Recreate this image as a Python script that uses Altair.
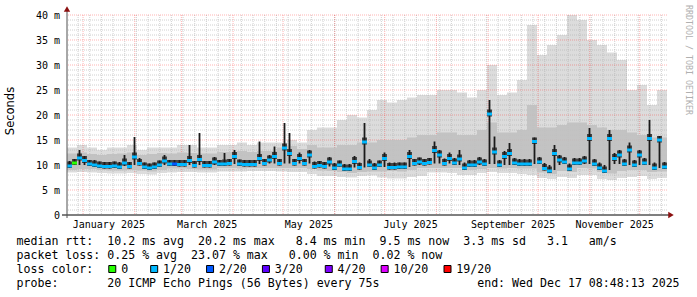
import altair as alt
import pandas as pd
from datetime import datetime, timedelta

START = datetime(2024, 12, 22, 8, 48, 13)
SPAN = 360.0
W, H = 600, 200
LEFT, TOP = 67, 15
MONO = "DejaVu Sans Mono"

# ---- median RTT (ms), 120 bins of 3 days ----
median_rtt = [9.8, 10.4, 11.4, 10.9, 10.2, 10.0, 9.8, 9.7, 9.7, 9.8,
              9.6, 10.4, 9.7, 11.6, 10.3, 9.6, 9.4, 9.6, 10.0, 10.8,
              10.2, 10.2, 10.1, 10.1, 10.9, 9.9, 11.1, 9.9, 9.9, 10.6,
              10.2, 10.2, 10.3, 11.7, 10.2, 10.1, 10.1, 10.1, 11.3, 10.3,
              11.0, 11.7, 10.3, 13.4, 12.3, 10.3, 11.3, 10.3, 12.0, 9.7,
              9.9, 9.7, 10.6, 9.4, 10.0, 9.2, 9.2, 10.7, 9.5, 14.6,
              10.0, 9.4, 10.0, 11.3, 9.5, 9.5, 9.6, 9.6, 11.7, 10.3,
              10.6, 10.3, 10.5, 12.9, 12.0, 10.3, 11.3, 10.4, 11.2, 9.4,
              10.0, 10.0, 10.6, 10.2, 20.2, 12.6, 10.0, 11.7, 12.3, 10.4,
              10.2, 10.2, 10.2, 14.7, 10.6, 9.3, 8.8, 12.3, 11.0, 10.6,
              9.2, 10.4, 10.4, 10.8, 15.3, 10.2, 9.4, 8.8, 15.3, 11.3,
              12.0, 10.2, 13.0, 10.0, 12.0, 10.4, 15.3, 9.4, 15.0, 9.6]

# dense (dark) smoke around the median, 120 bins
dark_high = [10.8, 11.2, 13.0, 11.8, 11.0, 11.0, 10.7, 10.6, 10.6, 10.7,
             10.6, 12.0, 10.6, 15.6, 11.4, 10.5, 10.3, 10.5, 10.9, 12.0,
             11.0, 11.0, 11.0, 11.0, 14.0, 10.8, 16.4, 10.8, 10.8, 11.6,
             11.0, 12.4, 11.2, 13.0, 11.1, 11.0, 11.0, 11.0, 14.7, 11.2,
             12.0, 13.7, 11.2, 18.4, 16.4, 11.2, 12.5, 11.2, 13.0, 10.7,
             10.8, 10.6, 11.6, 10.4, 10.9, 10.2, 10.2, 11.8, 10.5, 18.4,
             11.2, 10.4, 10.9, 12.5, 10.5, 10.5, 10.5, 10.5, 13.0, 11.2,
             11.5, 11.2, 11.4, 14.7, 13.0, 11.3, 12.5, 11.4, 13.0, 10.5,
             11.0, 11.0, 11.6, 11.2, 23.0, 15.7, 11.0, 12.8, 14.4, 11.4,
             11.2, 11.2, 11.2, 15.5, 11.6, 10.4, 10.0, 14.0, 12.0, 11.6,
             10.3, 11.4, 11.4, 11.8, 17.4, 11.2, 10.5, 10.0, 17.0, 12.4,
             13.0, 11.2, 14.5, 11.0, 13.0, 11.4, 19.0, 10.5, 15.8, 10.6]
dark_low = [9.4, 10.0, 10.0, 10.0, 9.8, 9.6, 9.4, 9.3, 9.3, 9.4,
            9.2, 9.8, 9.3, 10.0, 9.9, 9.2, 9.0, 9.2, 9.6, 10.0,
            9.8, 9.8, 9.7, 9.7, 10.0, 9.5, 10.0, 9.5, 9.5, 10.0,
            9.8, 9.8, 9.9, 10.2, 9.8, 9.7, 9.7, 9.7, 10.2, 9.9,
            10.3, 10.3, 9.9, 10.3, 10.3, 9.9, 10.3, 9.9, 10.3, 9.3,
            9.5, 9.3, 9.7, 9.0, 9.6, 8.8, 8.8, 9.5, 9.1, 9.5,
            9.6, 9.0, 9.6, 9.6, 9.1, 9.1, 9.2, 9.2, 9.6, 9.9,
            10.0, 9.9, 10.1, 10.3, 10.3, 9.9, 10.3, 10.0, 10.0, 9.0,
            9.6, 9.6, 10.0, 9.8, 10.2, 10.2, 9.6, 10.0, 10.0, 10.0,
            9.8, 9.8, 9.8, 10.2, 10.2, 8.9, 8.4, 9.0, 10.0, 10.2,
            8.8, 10.0, 10.0, 10.2, 10.2, 9.8, 9.0, 8.4, 9.0, 10.2,
            10.2, 9.8, 10.0, 9.6, 10.0, 10.0, 10.0, 9.0, 9.4, 9.2]

# bins whose loss differs from the usual 1/20
loss_exceptions = {1: "0", 21: "2/20"}

# ---- outer smoke, 60 bins of 6 days ----
smoke_max = [13.5, 14.0, 13.5, 13.0, 13.5, 13.5, 14.0, 13.0, 13.5, 13.5,
             13.5, 14.0, 14.0, 13.5, 13.5, 14.0, 14.0, 14.5, 14.0, 14.5,
             14.5, 14.5, 15.0, 14.5, 17.0, 17.5, 17.5, 19.0, 20.0, 19.5,
             21.0, 23.0, 22.5, 23.0, 23.5, 24.0, 24.0, 25.0, 25.0, 24.5,
             23.5, 25.0, 30.0, 24.0, 24.5, 27.0, 38.0, 32.0, 34.0, 36.0,
             40.0, 39.0, 35.0, 34.0, 32.5, 31.0, 25.0, 26.0, 22.0, 25.0]
smoke_mid = [12.3, 12.5, 12.2, 12.0, 12.2, 12.3, 12.5, 12.0, 12.2, 12.4,
             12.3, 12.5, 12.4, 12.3, 12.3, 12.6, 12.6, 12.8, 12.6, 12.8,
             12.8, 13.5, 13.8, 13.2, 14.0, 13.5, 13.5, 14.0, 14.0, 14.5,
             14.5, 15.0, 15.0, 15.0, 15.5, 16.0, 16.0, 16.5, 16.5, 16.0,
             16.0, 17.0, 18.5, 16.5, 16.5, 17.0, 22.0, 17.5, 17.5, 18.0,
             18.5, 18.5, 18.0, 17.5, 17.0, 17.0, 16.5, 16.0, 15.5, 15.5]
smoke_lo = [9.0, 9.2, 9.2, 9.0, 8.9, 8.9, 9.0, 8.9, 8.7, 9.0,
            9.3, 9.3, 9.2, 9.1, 9.1, 9.4, 9.4, 9.3, 9.4, 9.4,
            9.4, 9.4, 9.4, 9.4, 9.2, 8.9, 8.8, 8.6, 8.4, 8.6,
            8.7, 8.7, 8.8, 8.7, 9.0, 9.4, 9.4, 9.4, 9.4, 9.4,
            9.0, 9.2, 9.4, 9.3, 9.4, 9.3, 9.3, 8.5, 8.2, 8.8,
            8.6, 9.4, 9.3, 8.6, 8.3, 8.8, 9.0, 9.0, 8.6, 8.7]
smoke_min = [8.5, 8.6, 8.5, 8.4, 8.3, 8.3, 8.4, 8.2, 8.1, 8.4,
             8.5, 8.6, 8.6, 8.5, 8.5, 8.7, 8.7, 8.7, 8.8, 8.8,
             8.8, 8.7, 8.6, 8.6, 8.2, 7.8, 7.8, 7.6, 7.5, 7.8,
             7.9, 7.5, 7.3, 7.3, 7.6, 7.8, 8.5, 8.5, 8.4, 8.0,
             8.0, 8.4, 8.6, 8.4, 8.4, 8.2, 8.0, 7.4, 7.2, 7.6,
             7.4, 8.0, 8.0, 7.2, 7.0, 7.4, 7.6, 7.8, 7.2, 7.4]

loss_labels = ["0", "1/20", "2/20", "3/20", "4/20", "10/20", "19/20"]
loss_colors = ["#26ff00", "#00b8ff", "#0059ff", "#5e00ff", "#7e00ff", "#dd00ff", "#ff0000"]

y_ticks = [0, 5, 10, 15, 20, 25, 30, 35, 40]
x_label_months = [1, 3, 5, 7, 9, 11]
x_label_texts = ["January 2025", "March 2025", "May 2025", "July 2025",
                 "September 2025", "November 2025"]

legend_lines = [
    "median rtt:  10.2 ms avg  20.2 ms max   8.4 ms min  9.5 ms now  3.3 ms sd   3.1   am/s",
    "packet loss: 0.25 % avg  23.07 % max   0.00 % min  0.02 % now",
    "loss color:  # 0   # 1/20  # 2/20  # 3/20   # 4/20  # 10/20  # 19/20",
    "probe:       20 ICMP Echo Pings (56 Bytes) every 75s              end: Wed Dec 17 08:48:13 2025",
]
watermark = "RRDTOOL / TOBI OETIKER"


def day(dt):
    return (dt - START).total_seconds() / 86400.0


nf = len(median_rtt)
fine = pd.DataFrame({
    "x0": [i * SPAN / nf for i in range(nf)],
    "x1": [(i + 1) * SPAN / nf for i in range(nf)],
    "med": median_rtt, "dlo": dark_low, "dhi": dark_high,
    "loss": [loss_exceptions.get(i, "1/20") for i in range(nf)],
})
fine["xc"] = (fine["x0"] + fine["x1"]) / 2
# wide part of the dense smoke stays close to the median; spikes are drawn thin
fine["dwide"] = [min(h, m + 0.9) for h, m in zip(dark_high, median_rtt)]
fine["dwlo"] = [max(l, m - 0.5) for l, m in zip(dark_low, median_rtt)]

nc = len(smoke_max)
coarse = pd.DataFrame({
    "x0": [j * SPAN / nc for j in range(nc)],
    "x1": [(j + 1) * SPAN / nc for j in range(nc)],
    "mn": smoke_min, "lo": smoke_lo, "mid": smoke_mid, "mx": smoke_max,
})

month_days = [day(datetime(2025, m, 1)) for m in range(1, 13)]
weekly_days = []
d = datetime(2024, 12, 29)
while d < START + timedelta(days=SPAN):
    weekly_days.append(day(d))
    d += timedelta(days=7)

xlab = pd.DataFrame({
    "d": [(day(datetime(2025, m, 1)) + day(datetime(2025, m + 1, 1))) / 2 for m in x_label_months],
    "t": x_label_texts,
})
ylab = pd.DataFrame({"v": y_ticks,
                     "t": [("%d m" % v) if v else "0  " for v in y_ticks]})
ylab["t"] = ylab["t"].str.replace(" ", "\u00a0")

minor_h = pd.DataFrame({"v": [v for v in range(1, 40) if v % 5]})
major_h = pd.DataFrame({"v": [v for v in range(5, 41, 5)]})
minor_v = pd.DataFrame({"d": weekly_days})
major_v = pd.DataFrame({"d": month_days})

FS = 11.6
CW = FS * 0.60205
X0 = 16.5 - LEFT
BASES = [245, 259, 273, 287]
lines_df = pd.DataFrame({
    "t": [s.replace("#", " ").replace(" ", "\u00a0") for s in legend_lines],
    "yp": [b - TOP for b in BASES],
})
sq_idx = [k for k, ch in enumerate(legend_lines[2]) if ch == "#"]
squares = pd.DataFrame({
    "px": [X0 + (k + 0.5) * CW + 1.5 for k in sq_idx],
    "c": loss_colors,
})

xs = alt.Scale(domain=[0, SPAN], nice=False, zero=False)
ys = alt.Scale(domain=[0, 40], nice=False, zero=False)
one = pd.DataFrame({"a": [0]})

light = alt.Chart(coarse).mark_rect(color="#dcdcdc").encode(
    x=alt.X("x0:Q", scale=xs, axis=None), x2="x1:Q",
    y=alt.Y("mn:Q", scale=ys, axis=None), y2="mx:Q")
mid = alt.Chart(coarse).mark_rect(color="#c0c0c0", opacity=0.9).encode(
    x=alt.X("x0:Q", scale=xs, axis=None), x2="x1:Q",
    y=alt.Y("lo:Q", scale=ys, axis=None), y2="mid:Q")
dark_wide = alt.Chart(fine).mark_rect(color="#444444").encode(
    x=alt.X("x0:Q", scale=xs, axis=None), x2="x1:Q",
    y=alt.Y("dwlo:Q", scale=ys, axis=None), y2="dwide:Q")
dark_spike = alt.Chart(fine).mark_rule(color="#1a1a1a", strokeWidth=1.8).encode(
    x=alt.X("xc:Q", scale=xs, axis=None),
    y=alt.Y("dlo:Q", scale=ys, axis=None), y2="dhi:Q")

g_minor_h = alt.Chart(minor_h).mark_rule(color="#b0b0b0", strokeDash=[1, 1], opacity=0.6).encode(
    y=alt.Y("v:Q", scale=ys, axis=None))
g_minor_v = alt.Chart(minor_v).mark_rule(color="#b0b0b0", strokeDash=[1, 1], opacity=0.6).encode(
    x=alt.X("d:Q", scale=xs, axis=None))
g_major_h = alt.Chart(major_h).mark_rule(color="#ff0000", strokeDash=[1, 1], opacity=0.3).encode(
    y=alt.Y("v:Q", scale=ys, axis=None))
g_major_v = alt.Chart(major_v).mark_rule(color="#ff0000", strokeDash=[1, 1], opacity=0.3).encode(
    x=alt.X("d:Q", scale=xs, axis=None))

median = alt.Chart(fine).mark_rule(strokeWidth=3, strokeCap="butt").encode(
    x=alt.X("x0:Q", scale=xs, axis=None), x2="x1:Q",
    y=alt.Y("med:Q", scale=ys, axis=None),
    color=alt.Color("loss:N", scale=alt.Scale(domain=loss_labels, range=loss_colors), legend=None))

x_axis = alt.Chart(one).mark_rule(color="#000000", strokeWidth=1).encode(
    x=alt.value(-5), x2=alt.value(W + 3), y=alt.value(H))
y_axis = alt.Chart(one).mark_rule(color="#505050", strokeWidth=1).encode(
    x=alt.value(0), y=alt.value(-4), y2=alt.value(H + 3))
arrow_up = alt.Chart(one).mark_point(shape="triangle-up", filled=True, size=40,
                                     color="#8b1010", opacity=1).encode(
    x=alt.value(0), y=alt.value(-6))
arrow_right = alt.Chart(one).mark_point(shape="triangle-right", filled=True, size=40,
                                        color="#8b1010", opacity=1).encode(
    x=alt.value(W + 4), y=alt.value(H))

y_labels = alt.Chart(ylab).mark_text(font=MONO, fontSize=10, align="right",
                                     baseline="alphabetic", dy=3.5, color="#000000").encode(
    y=alt.Y("v:Q", scale=ys, axis=None), x=alt.value(-7), text="t:N")
x_labels = alt.Chart(xlab).mark_text(font=MONO, fontSize=10, align="center",
                                     baseline="alphabetic", color="#000000").encode(
    x=alt.X("d:Q", scale=xs, axis=None), y=alt.value(228 - TOP), text="t:N")

y_title = alt.Chart(one).mark_text(text="Seconds", font="DejaVu Sans", fontSize=11.5,
                                   angle=270, align="center", baseline="middle",
                                   color="#000000").encode(
    x=alt.value(10.5 - LEFT), y=alt.value(111 - TOP))
wm = alt.Chart(one).mark_text(text=watermark, font=MONO, fontSize=8.3, angle=90,
                              align="center", baseline="middle", color="#b0b0b0").encode(
    x=alt.value(688 - LEFT), y=alt.value(60 - TOP))

legend_text = alt.Chart(lines_df).mark_text(font=MONO, fontSize=FS, align="left",
                                            baseline="alphabetic", color="#000000").encode(
    x=alt.value(X0), y=alt.Y("yp:Q", scale=None), text="t:N")
legend_sq = alt.Chart(squares).mark_square(size=49, stroke="#000000", strokeWidth=1,
                                           opacity=1, filled=True).encode(
    x=alt.X("px:Q", scale=None), y=alt.value(BASES[2] - 4 - TOP),
    color=alt.Color("c:N", scale=None), stroke=alt.value("#000000"))

chart = alt.layer(
    light,
    g_minor_h, g_minor_v, g_major_h, g_major_v,
    mid, dark_wide, dark_spike,
    median,
    x_axis, y_axis, arrow_up, arrow_right,
    y_labels, x_labels, y_title, wm,
    legend_text, legend_sq,
).properties(
    width=W, height=H,
    autosize=alt.AutoSizeParams(type="none"),
    padding={"left": LEFT, "top": TOP, "right": 697 - LEFT - W, "bottom": 297 - TOP - H},
    background="white",
).configure_view(stroke=None)

chart.save("out.html", embed_options={"renderer": "svg", "actions": False})
